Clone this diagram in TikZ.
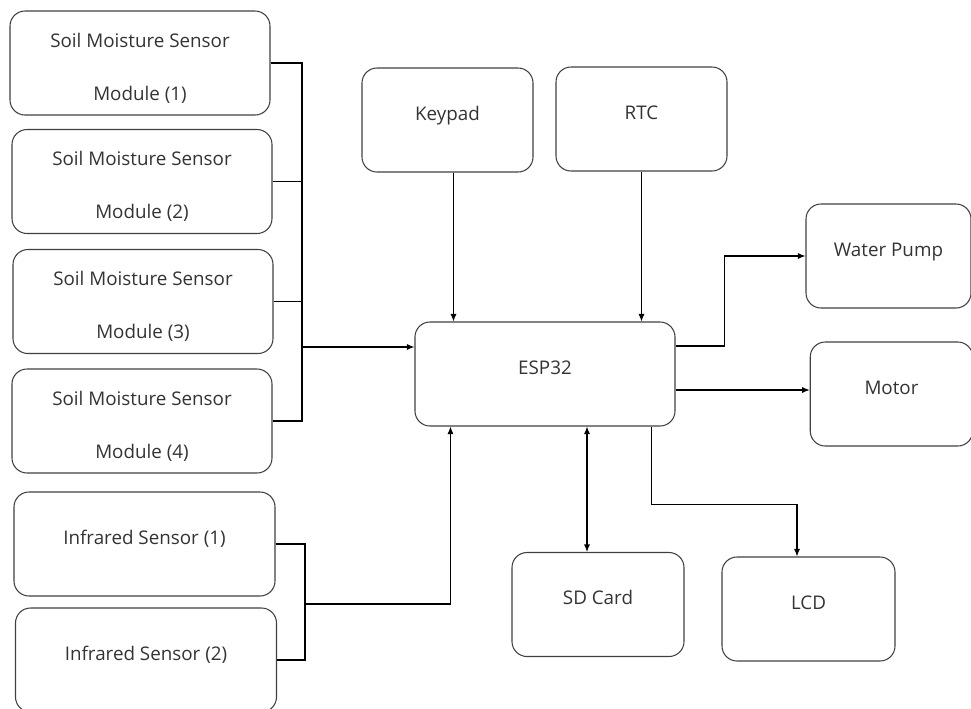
\documentclass[tikz,border=0pt]{standalone}
\usepackage{fontspec}
\setmainfont{Open Sans}
\usetikzlibrary{arrows.meta}

\begin{document}
\begin{tikzpicture}[
    >={Latex[length=1.5mm,width=1.2mm]},
    line width=0.6pt,
    every node/.style={rectangle, draw=black!75, rounded corners=0.3cm,
        minimum height=2.08cm, inner sep=0pt, align=center, text=black!80,
        font=\fontsize{10.7pt}{13pt}\selectfont},
    one/.style={text height=2.2mm, text depth=2.2mm}
]

\useasboundingbox (0,0) rectangle (19.42,-14.16);

% ================= soil moisture sensors =================

\node[minimum width=5.2cm] (sm1) at (2.80,-1.26)  {\rule{0pt}{14pt}Soil Moisture Sensor\\[17pt]Module (1)};
\node[minimum width=5.2cm] (sm2) at (2.84,-3.63)  {\rule{0pt}{14pt}Soil Moisture Sensor\\[17pt]Module (2)};
\node[minimum width=5.2cm] (sm3) at (2.86,-6.03)  {\rule{0pt}{14pt}Soil Moisture Sensor\\[17pt]Module (3)};
\node[minimum width=5.2cm] (sm4) at (2.84,-8.42)  {\rule{0pt}{14pt}Soil Moisture Sensor\\[17pt]Module (4)};

% ================= infrared sensors =================

\node[one, minimum width=5.22cm] (ir1) at (2.89,-10.88) {Infrared Sensor (1)};
\node[one, minimum width=5.22cm] (ir2) at (2.92,-13.20) {Infrared Sensor (2)};

% ================= inputs on top, controller =================

\node[one, minimum width=3.42cm] (kp)  at (8.95,-2.40)  {Keypad};
\node[one, minimum width=3.42cm] (rtc) at (12.83,-2.38) {RTC};
\node[one, minimum width=5.2cm]  (esp) at (10.90,-7.48) {ESP32};

% ================= outputs =================

\node[one, minimum width=3.3cm]  (pump) at (17.77,-5.12)  {Water Pump};
\node[one, minimum width=3.25cm] (mot)  at (17.83,-7.88)  {Motor};
\node[one, minimum width=3.44cm] (sd)   at (11.96,-12.09) {SD Card};
\node[one, minimum width=3.46cm] (lcd)  at (16.17,-12.18) {LCD};

% ================= connections =================

\coordinate (bm)  at (6.04,-6.94);
\coordinate (irm) at (6.10,-12.08);

\draw (sm1.east) -| (bm);
\draw (sm4.east) -| (bm);
\draw (sm2.east) -- (sm2.east -| bm);
\draw (sm3.east) -- (sm3.east -| bm);
\draw[->] (bm) -- (bm -| esp.west);

\draw (ir1.east) -| (irm);
\draw (ir2.east) -| (irm);
\coordinate (ix) at ([xshift=7.2mm]esp.south west);
\draw[->] (irm) -| (ix);

\coordinate (kx) at ([xshift=1.2mm]kp.south);
\draw[->] (kx) -- (kx |- esp.north);
\draw[->] (rtc.south) -- (rtc.south |- esp.north);

\coordinate (px) at ([yshift=5.6mm]esp.east);
\draw[->] (px) -- ++(0.97,0) |- (pump.west);
\coordinate (mx) at ([yshift=-3.2mm]esp.east);
\draw[->] (mx) -- (mx -| mot.west);

\coordinate (sx) at ([xshift=-2.2mm]sd.north);
\draw[<->] (sx |- esp.south) -- (sx);
\coordinate (lx) at ([xshift=-4.8mm]esp.south east);
\coordinate (ly) at ([xshift=-2.3mm]lcd.north);
\draw[->] (lx) -- ++(0,-1.56) -| (ly);

\end{tikzpicture}
\end{document}
